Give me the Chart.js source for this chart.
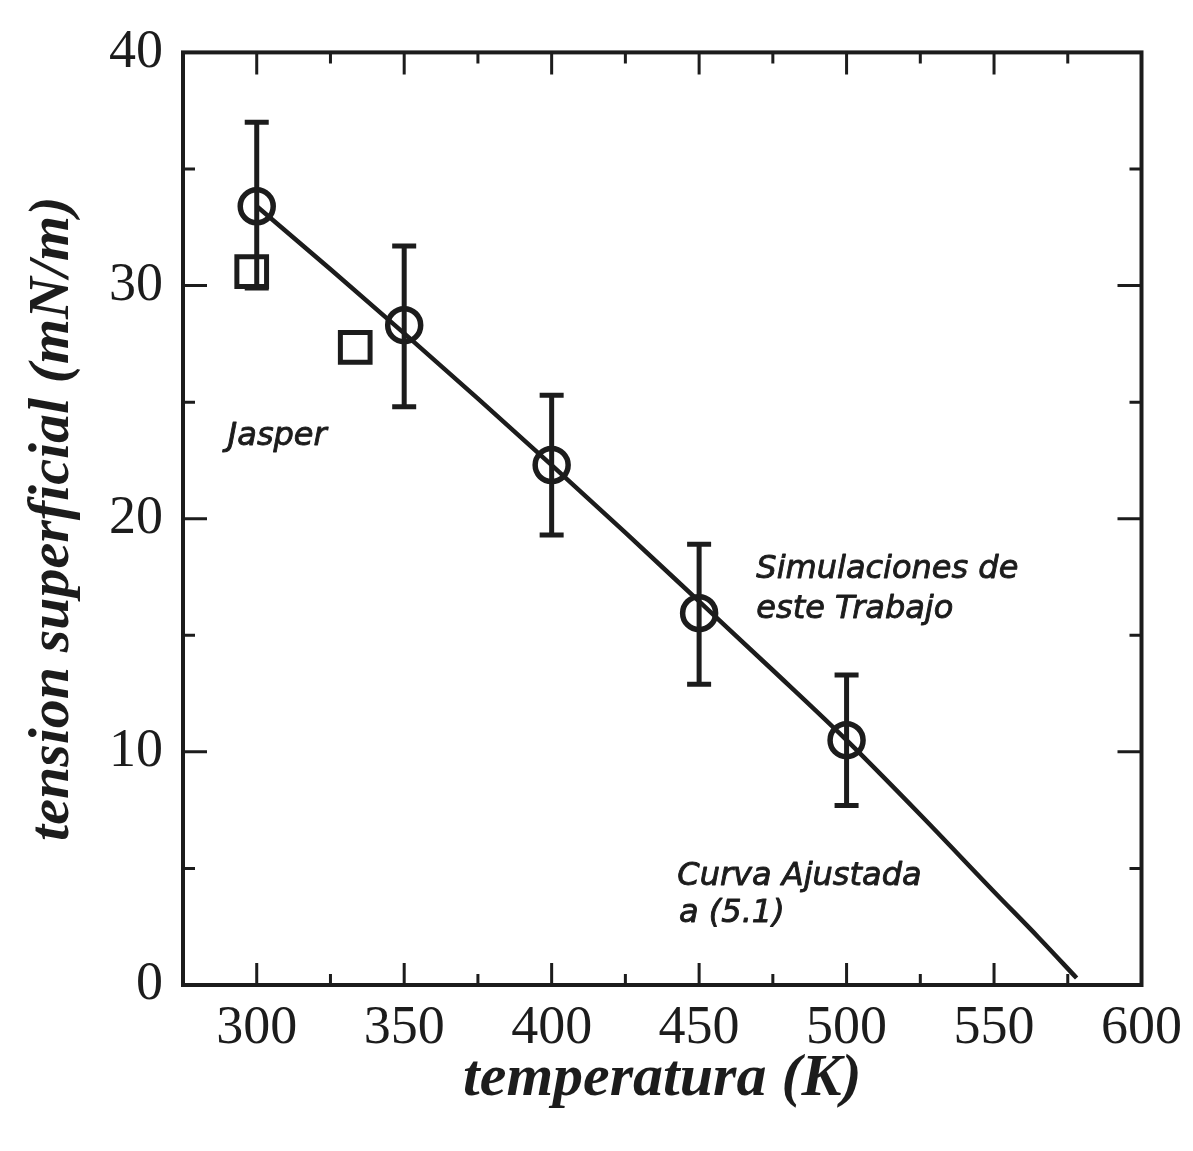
<!DOCTYPE html>
<html>
<head>
<meta charset="utf-8">
<script src="https://cdn.jsdelivr.net/npm/chart.js@4.4.1/dist/chart.umd.min.js"></script>
<style>
  html, body { margin: 0; padding: 0; background: #ffffff; }
  #wrap { width: 1193px; height: 1151px; }
</style>
</head>
<body>
<div id="wrap"><canvas id="c" width="1193" height="1151"></canvas></div>
<script>
// ---- data ----
const simTemps   = [300, 350, 400, 450, 500];
const simTension = [33.4, 28.3, 22.3, 15.95, 10.5];
const simErrLow  = [29.9, 24.8, 19.3, 12.9, 7.7];
const simErrHigh = [37.0, 31.7, 25.3, 18.9, 13.3];

const jasperTemps   = [298.3, 333.4];
const jasperTension = [30.6, 27.35];

const fitTemps   = [300, 325, 350, 375, 400, 425, 450, 475, 500, 525, 550, 565, 578];
const fitTension = [33.4, 30.7, 27.95, 25.15, 22.3, 19.4, 16.45, 13.5, 10.5, 7.3, 4.0, 2.05, 0.3];

const xTickValues = [300, 350, 400, 450, 500, 550, 600];
const yTickValues = [0, 10, 20, 30, 40];
const xMinorTicks = [325, 375, 425, 475, 525, 575];
const xMajorTicks = [300, 350, 400, 450, 500, 550];
const yMinorTicks = [5, 15, 25, 35];
const yMajorTicks = [10, 20, 30];

const annotations = [
  { text: 'Jasper',          x: 290.2, y: 23.15 },
  { text: 'Simulaciones de', x: 469.4, y: 17.45 },
  { text: 'este Trabajo',    x: 469.4, y: 15.75 },
  { text: 'Curva Ajustada',  x: 442.6, y: 4.3 },
  { text: 'a (5.1)',         x: 443.2, y: 2.7 }
];

const INK = '#1c1c1c';

const toXY = (xs, ys) => xs.map((x, i) => ({ x: x, y: ys[i] }));

const framePlugin = {
  id: 'frame',
  afterDatasetsDraw(chart) {
    const ctx = chart.ctx;
    const xs = chart.scales.x, ys = chart.scales.y;
    const a = chart.chartArea;
    ctx.save();
    ctx.strokeStyle = INK;
    ctx.lineCap = 'butt';

    // error bars
    ctx.lineWidth = 5;
    const capHalf = 12;
    simTemps.forEach((t, i) => {
      const px = xs.getPixelForValue(t);
      const yl = ys.getPixelForValue(simErrLow[i]);
      const yh = ys.getPixelForValue(simErrHigh[i]);
      ctx.beginPath();
      ctx.moveTo(px, yl); ctx.lineTo(px, yh);
      ctx.moveTo(px - capHalf, yl); ctx.lineTo(px + capHalf, yl);
      ctx.moveTo(px - capHalf, yh); ctx.lineTo(px + capHalf, yh);
      ctx.stroke();
    });

    // tick marks (inward, all four sides)
    ctx.lineWidth = 3;
    const major = 22, minor = 11;
    const drawX = (vals, len) => vals.forEach(v => {
      const px = xs.getPixelForValue(v);
      ctx.beginPath();
      ctx.moveTo(px, a.bottom); ctx.lineTo(px, a.bottom - len);
      ctx.moveTo(px, a.top); ctx.lineTo(px, a.top + len);
      ctx.stroke();
    });
    const drawY = (vals, len) => vals.forEach(v => {
      const py = ys.getPixelForValue(v);
      ctx.beginPath();
      ctx.moveTo(a.left, py); ctx.lineTo(a.left + len, py);
      ctx.moveTo(a.right, py); ctx.lineTo(a.right - len, py);
      ctx.stroke();
    });
    drawX(xMajorTicks, major); drawX(xMinorTicks, minor);
    drawY(yMajorTicks, major + 2); drawY(yMinorTicks, minor + 1);

    // frame
    ctx.lineWidth = 4;
    ctx.strokeRect(a.left, a.top, a.right - a.left, a.bottom - a.top);

    // annotations
    ctx.fillStyle = INK;
    ctx.font = 'italic 32px "DejaVu Sans"';
    ctx.textAlign = 'left';
    ctx.textBaseline = 'alphabetic';
    ctx.lineWidth = 0.9;
    ctx.lineJoin = 'round';
    annotations.forEach(n => {
      const px = xs.getPixelForValue(n.x), py = ys.getPixelForValue(n.y);
      ctx.fillText(n.text, px, py);
      ctx.strokeText(n.text, px, py);
    });
    ctx.restore();
  }
};

new Chart(document.getElementById('c'), {
  type: 'scatter',
  data: {
    datasets: [
      {
        label: 'Curva Ajustada a (5.1)',
        data: toXY(fitTemps, fitTension),
        showLine: true,
        borderColor: INK,
        borderWidth: 4.5,
        pointRadius: 0,
        cubicInterpolationMode: 'monotone',
        fill: false,
        order: 3
      },
      {
        label: 'Simulaciones de este Trabajo',
        data: toXY(simTemps, simTension),
        pointStyle: 'circle',
        pointRadius: 16.5,
        pointHoverRadius: 16.5,
        borderWidth: 5.5,
        pointBorderWidth: 5.5,
        borderColor: INK,
        backgroundColor: 'rgba(0,0,0,0)',
        order: 2
      },
      {
        label: 'Jasper',
        data: toXY(jasperTemps, jasperTension),
        pointStyle: 'rect',
        pointRadius: 21,
        pointHoverRadius: 21,
        borderWidth: 5,
        pointBorderWidth: 5,
        borderColor: INK,
        backgroundColor: 'rgba(0,0,0,0)',
        order: 1
      }
    ]
  },
  options: {
    responsive: false,
    animation: false,
    devicePixelRatio: 1,
    layout: { padding: { left: 0, right: 51, top: 52, bottom: 0 } },
    plugins: {
      legend: { display: false },
      tooltip: { enabled: false }
    },
    scales: {
      x: {
        type: 'linear',
        min: 275,
        max: 600,
        afterBuildTicks: s => { s.ticks = xTickValues.map(v => ({ value: v })); },
        afterFit: s => { s.height = 166; },
        grid: { display: false, drawTicks: false },
        border: { display: false },
        ticks: {
          color: INK,
          padding: 11,
          maxRotation: 0,
          font: { family: '"Liberation Serif"', size: 54 }
        },
        title: {
          display: true,
          text: 'temperatura (K)',
          color: INK,
          padding: { top: 0, bottom: 36 },
          font: { family: '"Liberation Serif"', size: 60, style: 'italic', weight: 'bold' }
        }
      },
      y: {
        type: 'linear',
        min: 0,
        max: 40,
        afterBuildTicks: s => { s.ticks = yTickValues.map(v => ({ value: v })); },
        afterFit: s => { s.width = 183; },
        grid: { display: false, drawTicks: false },
        border: { display: false },
        ticks: {
          color: INK,
          padding: 20,
          font: { family: '"Liberation Serif"', size: 54 }
        },
        title: {
          display: true,
          text: 'tension superficial (mN/m)',
          color: INK,
          padding: { top: 18, bottom: 0 },
          font: { family: '"Liberation Serif"', size: 58, style: 'italic', weight: 'bold' }
        }
      }
    }
  },
  plugins: [framePlugin]
});
</script>
</body>
</html>
